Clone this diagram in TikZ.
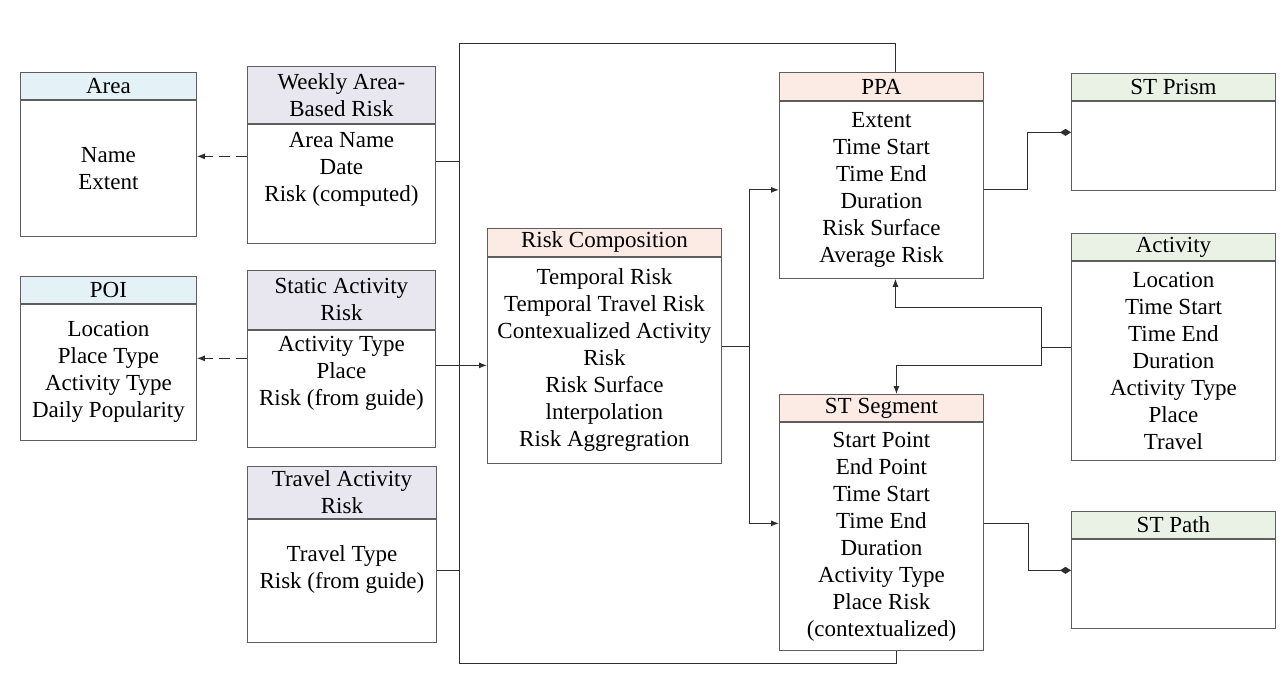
\documentclass[tikz,border=0pt]{standalone}
\usepackage{fontspec}
\setmainfont{Liberation Serif}
\usetikzlibrary{positioning, arrows.meta}
\definecolor{boxline}{HTML}{5E5E5E}
\definecolor{linkgray}{HTML}{2E2E2E}
\definecolor{areablue}{HTML}{E4F2F7}
\definecolor{riskpurple}{HTML}{E8E6EF}
\definecolor{comppink}{HTML}{FCEAE5}
\definecolor{stgreen}{HTML}{EAF2E6}
\tikzset{
	headbox/.style={draw=boxline, line width=0.9pt, fill=#1, inner sep=0pt, anchor=north west, align=center},
	bodybox/.style={draw=boxline, line width=0.9pt, inner sep=0pt, align=center},
	txt/.style={inner sep=0pt, align=center},
	link/.style={draw=linkgray, line width=1pt},
	arr/.style={link, -{Latex[length=8pt,width=6pt]}},
	dasharr/.style={link, dash pattern=on 11pt off 6pt, -{Latex[length=8pt,width=6pt]}},
	agg/.style={link, -{Diamond[length=11pt,width=7pt]}}
}

\begin{document}
\begin{tikzpicture}[x=1pt, y=-1pt, font=\fontsize{23}{27}\selectfont]
				\useasboundingbox (0,0) rectangle (1282,678);
				% left column
				\node[headbox=areablue, minimum width=176, minimum height=27] (area) at (20,72) {Area};
				\node[bodybox, minimum width=176, minimum height=136, below=0pt of area] (area-body) {Name\\Extent};
				\node[headbox=areablue, minimum width=176, minimum height=27] (poi) at (20,276) {POI};
				\node[bodybox, minimum width=176, minimum height=136, below=0pt of poi] (poi-body) {Location\\Place Type\\Activity Type\\Daily Popularity};
				% risk tables
				\node[headbox=riskpurple, minimum width=188, minimum height=57] (weekly) at (247,66) {Weekly Area-\\Based Risk};
				\node[bodybox, minimum width=188, minimum height=119, below=0pt of weekly] (weekly-body) {};
				\node[txt] (weekly-txt) at ([yshift=14.5]weekly-body.center) {Area Name\\Date\\Risk (computed)};
				\node[headbox=riskpurple, minimum width=188, minimum height=59] (static) at (247,270) {Static Activity\\Risk};
				\node[bodybox, minimum width=188, minimum height=117, below=0pt of static] (static-body) {};
				\node[txt] (static-txt) at ([yshift=15.5]static-body.center) {Activity Type\\Place\\Risk (from guide)};
				\node[headbox=riskpurple, minimum width=189, minimum height=52] (travel) at (247,466) {Travel Activity\\Risk};
				\node[bodybox, minimum width=189, minimum height=123, below=0pt of travel] (travel-body) {};
				\node[txt] (travel-txt) at ([yshift=11]travel-body.center) {Travel Type\\Risk (from guide)};
				% composition and outputs
				\node[headbox=comppink, minimum width=234, minimum height=28] (rc) at (487,228) {Risk Composition};
				\node[bodybox, minimum width=234, minimum height=206, below=0pt of rc] (rc-body) {Temporal Risk\\Temporal Travel Risk\\Contexualized Activity\\Risk\\Risk Surface\\lnterpolation\\Risk Aggregration};
				\node[headbox=comppink, minimum width=204, minimum height=28] (ppa) at (779,72) {PPA};
				\node[bodybox, minimum width=204, minimum height=177, below=0pt of ppa] (ppa-body) {Extent\\Time Start\\Time End\\Duration\\Risk Surface\\Average Risk};
				\node[headbox=comppink, minimum width=204, minimum height=27] (stseg) at (779,394) {ST Segment};
				\node[bodybox, minimum width=204, minimum height=228, below=0pt of stseg] (stseg-body) {Start Point\\End Point\\Time Start\\Time End\\Duration\\Activity Type\\Place Risk\\(contextualized)};
				% right column
				\node[headbox=stgreen, minimum width=204, minimum height=27] (prism) at (1071,73) {ST Prism};
				\node[bodybox, minimum width=204, minimum height=89, below=0pt of prism] (prism-body) {};
				\node[headbox=stgreen, minimum width=204, minimum height=27] (activity) at (1071,233) {Activity};
				\node[bodybox, minimum width=204, minimum height=199, below=0pt of activity] (activity-body) {Location\\Time Start\\Time End\\Duration\\Activity Type\\Place\\Travel};
				\node[headbox=stgreen, minimum width=204, minimum height=27] (stpath) at (1071,511) {ST Path};
				\node[bodybox, minimum width=204, minimum height=89, below=0pt of stpath] (stpath-body) {};
				% connectors
				\coordinate (bus-top) at (459,43);
				\coordinate (bus-bot) at (459,663);
				\coordinate (split) at ([yshift=14]rc-body.east -| 749,0);
				\draw[dasharr] ([yshift=27.5]weekly-body.west) -- ([yshift=27.5]weekly-body.west -| area-body.east);
				\draw[dasharr] ([yshift=30.5]static-body.west) -- ([yshift=30.5]static-body.west -| poi-body.east);
				\draw[link] ([xshift=14]ppa.north) |- (bus-top) -- (bus-bot) -| ([xshift=15]stseg-body.south);
				\draw[link] ([yshift=22.5]weekly-body.east) -- ([yshift=22.5]weekly-body.east -| bus-top);
				\draw[link] ([yshift=10.5]travel-body.east) -- ([yshift=10.5]travel-body.east -| bus-top);
				\draw[arr] ([yshift=23.5]static-body.east) -- ([yshift=23.5]static-body.east -| rc-body.west);
				\draw[link] ([yshift=14]rc-body.east) -- (split);
				\draw[arr] (split) |- (ppa-body.west);
				\draw[arr] (split) |- ([yshift=13]stseg-body.west);
				\draw[agg] (ppa-body.east) -- ++(44,0) |- ([yshift=13.5]prism-body.west);
				\draw[agg] ([yshift=13]stseg-body.east) -- ++(45,0) |- ([yshift=13.5]stpath-body.west);
				\draw[link] ([yshift=13.5]activity-body.west) -- ++(-30,0) coordinate (act-split);
				\draw[arr] (act-split) -- ++(0,-40) -| ([xshift=14]ppa-body.south);
				\draw[arr] (act-split) -- ++(0,18) -| ([xshift=15]stseg.north);
\end{tikzpicture}
\end{document}
